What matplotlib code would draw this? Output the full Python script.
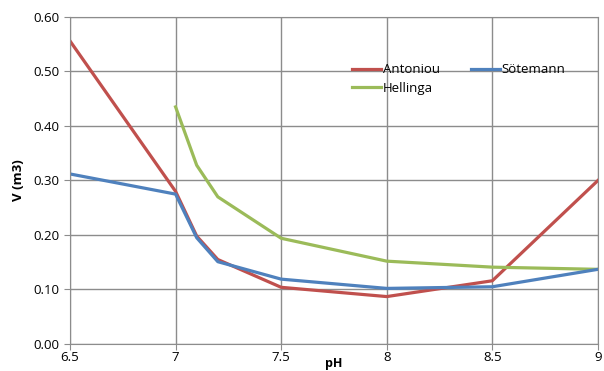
import matplotlib
matplotlib.use("Agg")
import matplotlib.pyplot as plt

plt.rcParams['font.family'] = ['Open Sans', 'DejaVu Sans']

# pH values and volumes
ph_ant = [6.5, 7.0, 7.1, 7.2, 7.5, 8.0, 8.5, 9.0]
v_ant = [0.556, 0.280, 0.198, 0.155, 0.104, 0.087, 0.116, 0.300]

ph_sot = [6.5, 7.0, 7.1, 7.2, 7.5, 8.0, 8.5, 9.0]
v_sot = [0.312, 0.275, 0.195, 0.151, 0.119, 0.102, 0.105, 0.137]

ph_hel = [7.0, 7.1, 7.2, 7.5, 8.0, 8.5, 9.0]
v_hel = [0.435, 0.328, 0.270, 0.194, 0.152, 0.141, 0.137]

xticks = [6.5, 7, 7.5, 8, 8.5, 9]
xticklabels = ['6.5', '7', '7.5', '8', '8.5', '9']
yticks = [0.0, 0.1, 0.2, 0.3, 0.4, 0.5, 0.6]

grid_c = '#8c8c8c'

fig = plt.figure(figsize=(6.04, 3.71), dpi=100)
ax = fig.add_axes([0.1159, 0.0728, 0.874, 0.8814])

ax.plot(ph_ant, v_ant, color='#C0504D', lw=2.3, label='Antoniou')
ax.plot(ph_hel, v_hel, color='#9BBB59', lw=2.3, label='Hellinga')
ax.plot(ph_sot, v_sot, color='#4F81BD', lw=2.3, label='Sötemann')

ax.set_xlim(6.5, 9)
ax.set_ylim(0, 0.6)
ax.set_xticks(xticks)
ax.set_xticklabels(xticklabels)
ax.set_yticks(yticks)
ax.set_yticklabels(['%.2f' % y for y in yticks])
ax.grid(True, color=grid_c, lw=1)
ax.set_axisbelow(True)
for s in ax.spines.values():
    s.set_color(grid_c)
ax.tick_params(colors=grid_c, labelcolor='black', labelsize=9.5, length=4)
ax.tick_params(axis='x', pad=1)

ax.set_xlabel('pH', fontweight='bold', fontsize=9, labelpad=-5)
ax.set_ylabel('V (m3)', fontweight='bold', fontsize=9.5, labelpad=6)

ax.legend(ncol=2, frameon=False, loc='upper left', bbox_to_anchor=(0.525, 0.875),
          fontsize=9.5, handlelength=2.2, handletextpad=0.1, columnspacing=2.4,
          labelspacing=0.45, borderaxespad=0)

fig.savefig('out.png', dpi=100)
